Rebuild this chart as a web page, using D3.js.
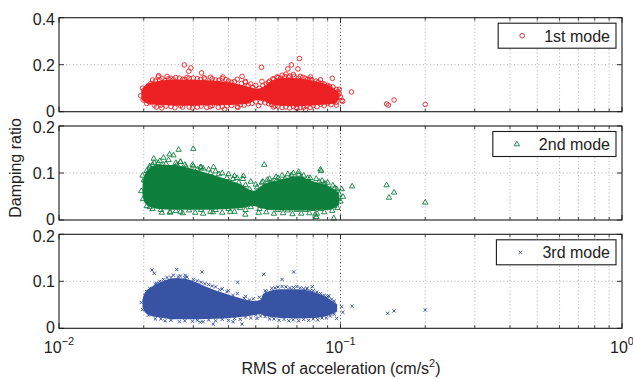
<!DOCTYPE html>
<html>
<head>
<meta charset="utf-8">
<script src="https://cdn.jsdelivr.net/npm/d3@7"></script>
<style>
body { margin: 0; background: #fff; }
text { font-family: "Liberation Sans", Arial, sans-serif; fill: #222; }
</style>
</head>
<body>
<div id="canvas"></div>
<script>
// damping ratio vs RMS acceleration, three modes stacked

const modeNames = ["1st mode", "2nd mode", "3rd mode"];
const modeColors = ["#ed2024", "#0e7f3c", "#3953a4"];
const yMaxes = [0.4, 0.2, 0.2];
const yTickValues = [[0, 0.2, 0.4], [0, 0.1, 0.2], [0, 0.1, 0.2]];
const xTickExponents = [-2, -1, 0];

// solid part of each cloud: x, lower and upper damping
const core1X   = [0.0196, 0.0200, 0.0208, 0.0220, 0.0235, 0.0262, 0.030, 0.0335, 0.0406, 0.0465, 0.0505, 0.0535, 0.0564, 0.0629, 0.0701, 0.0826, 0.0947, 0.099];
const core1Top = [0.082, 0.106, 0.120, 0.128, 0.134, 0.136, 0.136, 0.134, 0.124, 0.108, 0.098, 0.108, 0.128, 0.144, 0.142, 0.127, 0.100, 0.078];
const core1Bot = [0.056, 0.042, 0.034, 0.030, 0.028, 0.025, 0.025, 0.027, 0.029, 0.033, 0.050, 0.046, 0.033, 0.025, 0.023, 0.028, 0.035, 0.052];

const core2X   = [0.0198, 0.0202, 0.0210, 0.0223, 0.0255, 0.0292, 0.0335, 0.0384, 0.0441, 0.0491, 0.0533, 0.0611, 0.0701, 0.0804, 0.0921, 0.0988];
const core2Top = [0.075, 0.098, 0.110, 0.117, 0.117, 0.110, 0.100, 0.089, 0.076, 0.062, 0.076, 0.086, 0.093, 0.082, 0.070, 0.056];
const core2Bot = [0.050, 0.036, 0.028, 0.024, 0.022, 0.022, 0.022, 0.023, 0.025, 0.030, 0.024, 0.021, 0.020, 0.021, 0.023, 0.032];

const core3X   = [0.0198, 0.0202, 0.0210, 0.0222, 0.0240, 0.0262, 0.0292, 0.0335, 0.0384, 0.0441, 0.0491, 0.052, 0.0533, 0.0611, 0.0701, 0.0804, 0.0921, 0.0973];
const core3Top = [0.062, 0.076, 0.085, 0.094, 0.103, 0.107, 0.103, 0.088, 0.075, 0.064, 0.058, 0.061, 0.074, 0.083, 0.083, 0.077, 0.061, 0.051];
const core3Bot = [0.044, 0.034, 0.028, 0.024, 0.021, 0.019, 0.019, 0.020, 0.021, 0.024, 0.028, 0.030, 0.027, 0.022, 0.021, 0.022, 0.029, 0.036];

// scattered estimates around the clouds and the isolated ones at high RMS
const mode1Points = [
  [0.0195, 0.068], [0.0279, 0.199], [0.0294, 0.186], [0.0289, 0.172], [0.0321, 0.165], [0.0524, 0.189],
  [0.0715, 0.226], [0.0706, 0.182], [0.065, 0.182], [0.0669, 0.199], [0.0526, 0.129], [0.0447, 0.150],
  [0.0382, 0.148], [0.0242, 0.150], [0.0226, 0.153], [0.0459, 0.129], [0.0782, 0.148], [0.0387, 0.011],
  [0.0232, 0.016], [0.0432, 0.018], [0.0512, 0.026], [0.0697, 0.018], [0.0751, 0.009], [0.0578, 0.020],
  [0.0849, 0.136], [0.0935, 0.142], [0.1094, 0.084], [0.1011, 0.048], [0.1019, 0.044], [0.0968, 0.028],
  [0.1458, 0.033], [0.148, 0.028], [0.155, 0.050], [0.200, 0.031], [0.098, 0.085], [0.099, 0.095],
  [0.0215, 0.135], [0.0225, 0.148], [0.0232, 0.142], [0.0245, 0.140], [0.026, 0.145], [0.0275, 0.138],
  [0.029, 0.142], [0.031, 0.140], [0.033, 0.139], [0.0345, 0.147], [0.036, 0.135], [0.038, 0.141],
  [0.040, 0.130], [0.042, 0.128], [0.043, 0.138], [0.046, 0.125], [0.048, 0.118], [0.050, 0.112],
  [0.053, 0.110], [0.056, 0.130], [0.058, 0.138], [0.060, 0.145], [0.062, 0.155], [0.064, 0.160],
  [0.066, 0.152], [0.068, 0.158], [0.072, 0.150], [0.075, 0.142], [0.078, 0.138], [0.082, 0.130],
  [0.086, 0.120], [0.090, 0.112], [0.094, 0.105], [0.097, 0.095], [0.021, 0.040], [0.023, 0.028],
  [0.025, 0.022], [0.027, 0.025], [0.029, 0.020], [0.032, 0.024], [0.035, 0.026], [0.038, 0.022],
  [0.041, 0.027], [0.044, 0.030], [0.047, 0.034], [0.050, 0.042], [0.054, 0.038], [0.057, 0.030],
  [0.060, 0.024], [0.064, 0.020], [0.068, 0.022], [0.072, 0.018], [0.076, 0.024], [0.080, 0.026],
  [0.085, 0.032], [0.090, 0.036], [0.095, 0.045], [0.098, 0.070], [0.100, 0.062], [0.099, 0.078]
];
const mode1Edge = [
  [0.0200, 0.090], [0.0208, 0.112], [0.0212, 0.120], [0.022, 0.130], [0.0228, 0.136], [0.0238, 0.132],
  [0.0250, 0.142], [0.0255, 0.136], [0.0268, 0.143], [0.028, 0.137], [0.0285, 0.146], [0.030, 0.143],
  [0.0318, 0.137], [0.0328, 0.144], [0.035, 0.140], [0.037, 0.134], [0.0392, 0.136], [0.041, 0.125],
  [0.0445, 0.120], [0.047, 0.110], [0.0488, 0.104], [0.0515, 0.100], [0.0545, 0.118], [0.0555, 0.125],
  [0.0575, 0.140], [0.0595, 0.148], [0.0612, 0.143], [0.0635, 0.150], [0.0655, 0.146], [0.0685, 0.150],
  [0.071, 0.142], [0.0735, 0.146], [0.0765, 0.138], [0.079, 0.135], [0.0835, 0.126], [0.0875, 0.118],
  [0.0915, 0.108], [0.0205, 0.035], [0.0218, 0.028], [0.0222, 0.020], [0.0240, 0.024], [0.0258, 0.017],
  [0.0275, 0.020], [0.0298, 0.016], [0.031, 0.020], [0.0335, 0.018], [0.0345, 0.022], [0.0368, 0.019],
  [0.0395, 0.025], [0.043, 0.022], [0.0455, 0.028], [0.0485, 0.036], [0.052, 0.040], [0.0555, 0.034],
  [0.0585, 0.024], [0.062, 0.018], [0.066, 0.016], [0.070, 0.014], [0.074, 0.019], [0.078, 0.018],
  [0.0825, 0.022], [0.0875, 0.026], [0.0925, 0.030], [0.0965, 0.040], [0.0198, 0.100], [0.0199, 0.050]
];

const mode2Points = [
  [0.0235, 0.133], [0.0266, 0.150], [0.030, 0.152], [0.0247, 0.140], [0.0255, 0.138], [0.0217, 0.131],
  [0.027, 0.124], [0.0536, 0.118], [0.0452, 0.094], [0.0429, 0.090], [0.0459, 0.012], [0.0406, 0.018],
  [0.0512, 0.016], [0.027, 0.018], [0.0248, 0.016], [0.0345, 0.018], [0.0813, 0.012], [0.071, 0.103],
  [0.0849, 0.108], [0.0354, 0.113], [0.0318, 0.113], [0.0853, 0.105], [0.101, 0.066], [0.110, 0.072],
  [0.0947, 0.004], [0.0821, 0.007], [0.102, 0.050], [0.1458, 0.0745], [0.155, 0.059], [0.1487, 0.048],
  [0.200, 0.0376], [0.0873, 0.076], [0.0962, 0.059],
  [0.0200, 0.085], [0.0205, 0.105], [0.021, 0.115], [0.0215, 0.118], [0.0225, 0.122], [0.024, 0.120],
  [0.026, 0.122], [0.028, 0.118], [0.030, 0.115], [0.032, 0.112], [0.034, 0.108], [0.036, 0.104],
  [0.038, 0.100], [0.040, 0.098], [0.042, 0.094], [0.045, 0.088], [0.048, 0.082], [0.050, 0.076],
  [0.053, 0.082], [0.056, 0.088], [0.059, 0.092], [0.062, 0.095], [0.065, 0.098], [0.068, 0.100],
  [0.071, 0.097], [0.074, 0.095], [0.078, 0.090], [0.082, 0.088], [0.086, 0.084], [0.090, 0.080],
  [0.094, 0.074], [0.097, 0.066], [0.021, 0.028], [0.023, 0.022], [0.026, 0.020], [0.029, 0.021],
  [0.032, 0.022], [0.036, 0.022], [0.040, 0.024], [0.044, 0.026], [0.048, 0.028], [0.052, 0.030],
  [0.056, 0.026], [0.060, 0.022], [0.065, 0.021], [0.070, 0.022], [0.075, 0.022], [0.080, 0.024],
  [0.085, 0.024], [0.090, 0.026], [0.095, 0.030], [0.098, 0.045], [0.100, 0.040], [0.099, 0.055]
];
const mode2Edge = [
  [0.0202, 0.085], [0.0210, 0.112], [0.0218, 0.122], [0.0228, 0.126], [0.0235, 0.118], [0.0245, 0.128],
  [0.0262, 0.118], [0.027, 0.124], [0.0282, 0.114], [0.0298, 0.118], [0.031, 0.108], [0.0325, 0.110],
  [0.0345, 0.100], [0.037, 0.098], [0.0395, 0.090], [0.0415, 0.088], [0.0435, 0.080], [0.046, 0.075],
  [0.0475, 0.066], [0.0505, 0.070], [0.0525, 0.080], [0.055, 0.086], [0.0575, 0.083], [0.060, 0.090],
  [0.0635, 0.088], [0.067, 0.096], [0.0725, 0.092], [0.0765, 0.090], [0.084, 0.082], [0.088, 0.078],
  [0.0955, 0.068], [0.0205, 0.030], [0.0215, 0.024], [0.0232, 0.016], [0.0248, 0.018], [0.0275, 0.015],
  [0.0305, 0.016], [0.0325, 0.014], [0.0352, 0.017], [0.038, 0.016], [0.042, 0.018], [0.046, 0.022],
  [0.0515, 0.024], [0.0545, 0.017], [0.058, 0.014], [0.0625, 0.015], [0.0675, 0.013], [0.0725, 0.014],
  [0.0775, 0.015], [0.0825, 0.014], [0.0875, 0.017], [0.0935, 0.020], [0.0975, 0.026],
  [0.0196, 0.062], [0.0198, 0.095], [0.0199, 0.045]
];

const mode3Points = [
  [0.0214, 0.124], [0.0218, 0.117], [0.0262, 0.125], [0.0322, 0.120], [0.0534, 0.115], [0.0682, 0.120],
  [0.0620, 0.104], [0.0431, 0.098], [0.0281, 0.113], [0.0447, 0.009], [0.0353, 0.009], [0.0318, 0.013],
  [0.0505, 0.021], [0.0415, 0.014], [0.0794, 0.0885], [0.0760, 0.085], [0.0909, 0.069], [0.101, 0.046],
  [0.102, 0.034], [0.110, 0.047], [0.0969, 0.021], [0.147, 0.032], [0.155, 0.037], [0.200, 0.039],
  [0.094, 0.0425],
  [0.0205, 0.078], [0.021, 0.085], [0.022, 0.094], [0.0235, 0.104], [0.025, 0.108], [0.0265, 0.110],
  [0.028, 0.108], [0.030, 0.104], [0.032, 0.098], [0.034, 0.093], [0.036, 0.088], [0.038, 0.084],
  [0.040, 0.080], [0.043, 0.074], [0.046, 0.068], [0.049, 0.063], [0.054, 0.080], [0.057, 0.085],
  [0.060, 0.088], [0.064, 0.088], [0.068, 0.087], [0.072, 0.086], [0.076, 0.083], [0.080, 0.080],
  [0.085, 0.074], [0.090, 0.068], [0.095, 0.058], [0.021, 0.030], [0.023, 0.020], [0.025, 0.017],
  [0.028, 0.016], [0.031, 0.017], [0.034, 0.018], [0.038, 0.019], [0.042, 0.021], [0.046, 0.024],
  [0.050, 0.028], [0.054, 0.025], [0.058, 0.020], [0.063, 0.019], [0.068, 0.018], [0.074, 0.019],
  [0.080, 0.020], [0.086, 0.022], [0.092, 0.026]
];
const mode3Edge = [
  [0.0202, 0.070], [0.0212, 0.082], [0.0222, 0.096], [0.0228, 0.100], [0.0242, 0.108], [0.0255, 0.113],
  [0.027, 0.111], [0.0285, 0.109], [0.031, 0.101], [0.033, 0.095], [0.035, 0.090], [0.0372, 0.082],
  [0.0395, 0.078], [0.0415, 0.070], [0.0455, 0.064], [0.0475, 0.060], [0.0515, 0.066], [0.0545, 0.078],
  [0.0585, 0.086], [0.062, 0.089], [0.066, 0.086], [0.070, 0.089], [0.074, 0.084], [0.078, 0.080],
  [0.0825, 0.077], [0.0875, 0.070], [0.093, 0.062], [0.0208, 0.028], [0.022, 0.020], [0.0238, 0.016],
  [0.0268, 0.014], [0.0298, 0.015], [0.0325, 0.014], [0.036, 0.016], [0.040, 0.017], [0.044, 0.019],
  [0.048, 0.022], [0.052, 0.026], [0.056, 0.020], [0.0605, 0.017], [0.0655, 0.016], [0.071, 0.016],
  [0.077, 0.017], [0.083, 0.018], [0.089, 0.022], [0.095, 0.030], [0.0196, 0.055], [0.0198, 0.040]
];

const cores = [
  {x: core1X, top: core1Top, bot: core1Bot},
  {x: core2X, top: core2Top, bot: core2Bot},
  {x: core3X, top: core3Top, bot: core3Bot}
];
const pointSets = [
  mode1Points.concat(mode1Edge),
  mode2Points.concat(mode2Edge),
  mode3Points.concat(mode3Edge)
];

// layout
const width = 633, height = 379;
const left = 59, right = 622;
const panelTops = [17.7, 126, 234.3];
const panelH = 94;
const fontSize = "16px";

const svg = d3.select("#canvas")
    .append("svg")
    .attr("width", width)
    .attr("height", height);

const x = d3.scaleLog()
    .domain([0.01, 1])
    .range([left, right]);

const minorX = d3.range(2, 10).map(k => k * 0.01)
    .concat(d3.range(2, 10).map(k => k * 0.1));
const majorX = [0.01, 0.1, 1];

// marker shapes
const markerPaths = [
    null,
    "M0,-2.9L2.7,1.8L-2.7,1.8Z",
    "M-1.6,-1.6L1.6,1.6M-1.6,1.6L1.6,-1.6"
];

function drawMarker(g, i, cx, cy) {
    if (i === 0) {
        g.append("circle")
            .attr("cx", cx).attr("cy", cy).attr("r", 2.3)
            .style("fill", "none")
            .style("stroke", modeColors[i])
            .style("stroke-width", 0.9);
    } else {
        g.append("path")
            .attr("transform", "translate(" + cx + "," + cy + ")")
            .attr("d", markerPaths[i])
            .style("fill", "none")
            .style("stroke", modeColors[i])
            .style("stroke-width", i === 1 ? 0.9 : 1);
    }
}

modeNames.forEach(function(name, i) {
    const top = panelTops[i], bottom = top + panelH;
    const y = d3.scaleLinear()
        .domain([0, yMaxes[i]])
        .range([bottom, top]);
    const g = svg.append("g");

    // grid
    minorX.forEach(function(v) {
        g.append("line")
            .attr("x1", x(v)).attr("x2", x(v))
            .attr("y1", top).attr("y2", bottom)
            .style("stroke", "#9a9a9a")
            .style("stroke-width", 0.8)
            .style("stroke-dasharray", "1,2.5");
    });
    g.append("line")
        .attr("x1", x(0.1)).attr("x2", x(0.1))
        .attr("y1", top).attr("y2", bottom)
        .style("stroke", "#222")
        .style("stroke-width", 0.9)
        .style("stroke-dasharray", "1,2.5");
    const midTick = yTickValues[i][1];
    g.append("line")
        .attr("x1", left).attr("x2", right)
        .attr("y1", y(midTick)).attr("y2", y(midTick))
        .style("stroke", "#9a9a9a")
        .style("stroke-width", 0.8)
        .style("stroke-dasharray", "1,2.5");

    // solid middle of the cloud
    const c = cores[i];
    const area = d3.area()
        .x(d => x(c.x[d]))
        .y0(d => y(c.bot[d]))
        .y1(d => y(c.top[d]))
        .curve(d3.curveMonotoneX);
    g.append("path")
        .datum(d3.range(c.x.length))
        .attr("d", area)
        .style("fill", modeColors[i]);

    // individual markers
    const mg = g.append("g");
    pointSets[i].forEach(function(p) {
        drawMarker(mg, i, x(p[0]), y(p[1]));
    });

    // box
    g.append("rect")
        .attr("x", left).attr("y", top)
        .attr("width", right - left).attr("height", panelH)
        .style("fill", "none")
        .style("stroke", "#1a1a1a")
        .style("stroke-width", 1.1);

    // ticks on all four sides, pointing inwards
    minorX.forEach(function(v) {
        [[top, 3], [bottom, -3]].forEach(function(t) {
            g.append("line")
                .attr("x1", x(v)).attr("x2", x(v))
                .attr("y1", t[0]).attr("y2", t[0] + t[1])
                .style("stroke", "#1a1a1a").style("stroke-width", 0.8);
        });
    });
    majorX.forEach(function(v) {
        [[top, 5], [bottom, -5]].forEach(function(t) {
            g.append("line")
                .attr("x1", x(v)).attr("x2", x(v))
                .attr("y1", t[0]).attr("y2", t[0] + t[1])
                .style("stroke", "#1a1a1a").style("stroke-width", 0.9);
        });
    });
    yTickValues[i].forEach(function(v, k) {
        [[left, 5], [right, -5]].forEach(function(t) {
            g.append("line")
                .attr("x1", t[0]).attr("x2", t[0] + t[1])
                .attr("y1", y(v)).attr("y2", y(v))
                .style("stroke", "#1a1a1a").style("stroke-width", 0.9);
        });
        // bottom label sits a touch high, top one a touch low, as in the original
        const nudge = k === 0 ? -1 : (k === 2 ? 1.5 : 0);
        g.append("text")
            .attr("x", left - 4)
            .attr("y", y(v) + 5.8 + nudge)
            .attr("text-anchor", "end")
            .style("font-size", fontSize)
            .text(String(v));
    });

    // legend
    const lg = g.append("g");
    const label = lg.append("text")
        .attr("x", 610)
        .attr("y", top + 24)
        .attr("text-anchor", "end")
        .style("font-size", fontSize)
        .text(name);
    const textStart = 610 - label.node().getComputedTextLength();
    lg.insert("rect", "text")
        .attr("x", textStart - 46)
        .attr("y", top + 5.5)
        .attr("width", 616 - (textStart - 46))
        .attr("height", 25)
        .style("fill", "#fff")
        .style("stroke", "#1a1a1a")
        .style("stroke-width", 1.1);
    drawMarker(lg, i, textStart - 22, top + 18);
});

// x tick labels on the bottom panel only
xTickExponents.forEach(function(e) {
    const t = svg.append("text")
        .attr("x", x(Math.pow(10, e)))
        .attr("y", 353)
        .attr("text-anchor", "middle")
        .style("font-size", fontSize);
    t.append("tspan").text("10");
    t.append("tspan")
        .attr("dy", -8)
        .style("font-size", "11px")
        .text(e === 0 ? "0" : "\u2212" + Math.abs(e));
});

// axis titles
const xt = svg.append("text")
    .attr("x", 341)
    .attr("y", 374)
    .attr("text-anchor", "middle")
    .style("font-size", fontSize);
xt.append("tspan").text("RMS of acceleration (cm/s");
xt.append("tspan").attr("dy", -7).style("font-size", "11px").text("2");
xt.append("tspan").attr("dy", 7).text(")");

svg.append("text")
    .attr("transform", "translate(21,168) rotate(-90)")
    .attr("text-anchor", "middle")
    .style("font-size", fontSize)
    .text("Damping ratio");
</script>
</body>
</html>
